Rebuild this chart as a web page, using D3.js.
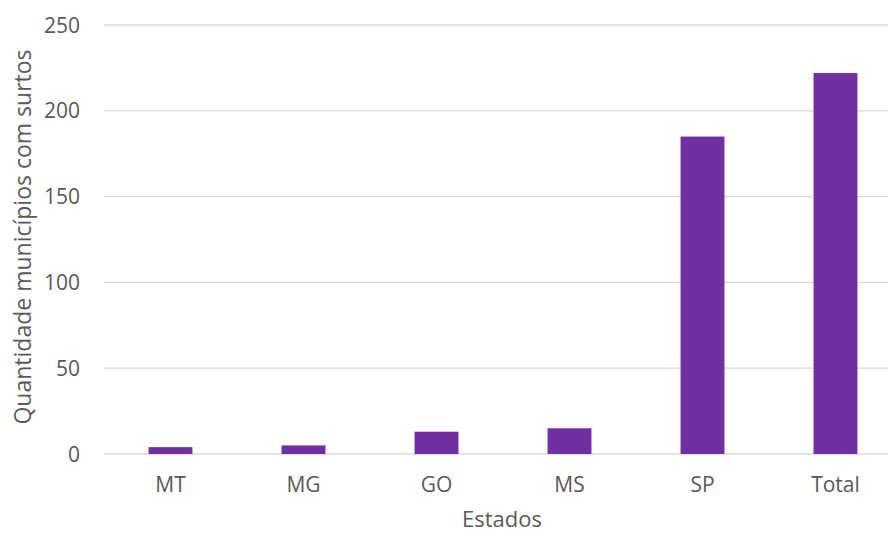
<!DOCTYPE html>
<html>
<head>
<meta charset="utf-8">
<script src="https://cdn.jsdelivr.net/npm/d3@7"></script>
<style>
  body { margin: 0; background: #fff; }
  text { font-family: "Open Sans", sans-serif; fill: #595959; }
</style>
</head>
<body>
<div id="chart"></div>
<script>
const estados = ["MT", "MG", "GO", "MS", "SP", "Total"];
const municipios = [4, 5, 13, 15, 185, 222];
const yTicks = [0, 50, 100, 150, 200, 250];

const margin = {top: 25, right: -14, bottom: 79, left: 104};
const width = 888 - margin.left - margin.right;
const height = 533 - margin.top - margin.bottom;

const svg = d3.select("#chart").append("svg")
  .attr("width", 888)
  .attr("height", 533);
const g = svg.append("g")
  .attr("transform", "translate(" + margin.left + "," + margin.top + ")");

const x = d3.scaleBand().domain(estados).range([0, width])
  .paddingInner(0.67).paddingOuter(0.335);
const y = d3.scaleLinear().domain([0, 250]).range([height, 0]);

// gridlines
g.append("g").selectAll("line")
  .data(yTicks)
  .enter().append("line")
  .attr("x1", 0).attr("x2", width)
  .attr("y1", d => y(d)).attr("y2", d => y(d))
  .style("stroke", "#d9d9d9")
  .style("stroke-width", 1.3);

// y tick labels
g.append("g").selectAll("text")
  .data(yTicks)
  .enter().append("text")
  .attr("x", -24)
  .attr("y", d => y(d))
  .attr("dy", "0.36em")
  .style("text-anchor", "end")
  .style("font-size", "21px")
  .text(d => d);

// bars
g.append("g").selectAll("rect")
  .data(estados)
  .enter().append("rect")
  .attr("x", d => x(d))
  .attr("width", x.bandwidth())
  .attr("y", (d, i) => y(municipios[i]))
  .attr("height", (d, i) => height - y(municipios[i]))
  .style("fill", "#7030a0");

// x labels
g.append("g").selectAll("text")
  .data(estados)
  .enter().append("text")
  .attr("x", d => x(d) + x.bandwidth() / 2)
  .attr("y", height + 38)
  .style("text-anchor", "middle")
  .style("font-size", "21px")
  .text(d => d);

// axis titles
svg.append("text")
  .attr("x", 502)
  .attr("y", 527)
  .style("text-anchor", "middle")
  .style("font-size", "22px")
  .text("Estados");

svg.append("text")
  .attr("transform", "translate(31,237) rotate(-90)")
  .style("text-anchor", "middle")
  .style("font-size", "23px")
  .text("Quantidade municípios com surtos");
</script>
</body>
</html>
